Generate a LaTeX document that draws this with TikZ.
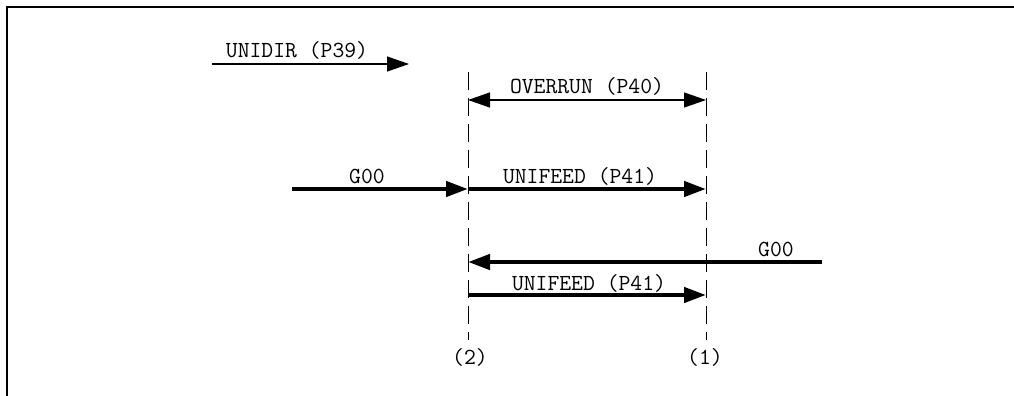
\documentclass[tikz,border=0pt]{standalone}
\usepackage{fontspec}
\usetikzlibrary{arrows.meta, positioning}
\tikzset{
  >={Triangle[length=11pt, width=7.5pt]},
  rapid/.style = {->, line width=2.2pt},
  param/.style = {line width=0.6pt},
  guide/.style = {dash pattern=on 9pt off 4pt, line width=0.5pt},
  tag/.style = {font=\ttfamily\fontsize{11.5}{13}\selectfont, inner sep=0pt, anchor=base},
  frame/.style = {line width=1pt}
}
\begin{document}
\begin{tikzpicture}[x=0.5pt, y=-0.5pt]
\useasboundingbox (0,0) rectangle (1014,396);

% Frame
\draw[frame] (7,396) -- (7,7) -- (1014,7);

% End positions
\node[tag, anchor=center] (pos2) at (470,357) {(2)};
\node[tag, anchor=center] (pos1) at (705,357) {(1)};
\coordinate (top2) at (468,72);
\coordinate (top1) at (706,72);
\draw[guide] (top2) -- ([yshift=4pt]top2 |- pos2.north);
\draw[guide] (top1) -- ([yshift=4pt]top1 |- pos1.north);

% Unidirectional
\coordinate (dir0) at (212,64);
\coordinate (dir1) at (409,64);
\draw[param, ->] (dir0) -- (dir1);
\node[tag] (unidir) at (297,57) {UNIDIR (P39)};

% Overrun
\coordinate (ov2) at (468,100);
\coordinate (ov1) at (706,100);
\draw[param, <->] (ov2) -- (ov1);
\node[tag] (overrun) at (587,93) {OVERRUN (P40)};

% First approach
\coordinate (g00a) at (292,189);
\coordinate (feed2a) at (468,189);
\coordinate (feed1a) at (706,189);
\draw[rapid] (g00a) -- (feed2a);
\draw[rapid] (feed2a) -- (feed1a);
\node[tag] (g00up) at (367,183) {G00};
\node[tag] (feedup) at (580,183) {UNIFEED (P41)};

% Second approach
\coordinate (g00b) at (822,262);
\coordinate (ret2) at (468,262);
\coordinate (feed2b) at (468,295);
\coordinate (feed1b) at (706,295);
\draw[rapid] (g00b) -- (ret2);
\draw[rapid] (feed2b) -- (feed1b);
\node[tag] (g00dn) at (776,256) {G00};
\node[tag] (feeddn) at (589,290) {UNIFEED (P41)};

\end{tikzpicture}
\end{document}
